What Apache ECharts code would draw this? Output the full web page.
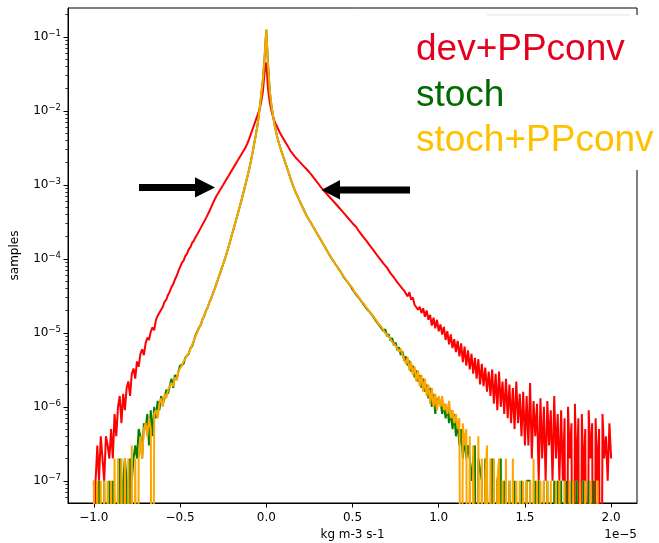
<!DOCTYPE html>
<html><head><meta charset="utf-8">
<script src="https://cdn.jsdelivr.net/npm/echarts@6/dist/echarts.min.js"></script>
<style>html,body{margin:0;padding:0;background:#fff}#c{width:659px;height:543px}</style>
</head><body><div id="c"></div>
<script>
// histogram bins: x (in units of 1e-5 kg m-3 s-1) = X_START + i * X_STEP
const X_START = -1.0, X_STEP = 0.01;
const N_SAMPLES = 1e7;          // counts -> fraction of samples
const ZERO_FLOOR = 1e-12;       // empty bins fall below the log axis (as matplotlib does)

const seriesNames = ['dev+PPconv', 'stoch', 'stoch+PPconv'];

const devPPconvCounts = [
  0,1,3,1,4,2,1,4,3,2,
  5,2,8,4,10,14,6,15,9,18,
  22,14,28,33,24,41,35,52,60,50,
  72,86,80,104,118,108,150,170,165,205,
  225,262,280,325,360,415,455,525,585,680,
  770,880,940,1090,1170,1340,1440,1640,1760,1970,
  2150,2370,2620,2900,3200,3550,3950,4400,4950,5600,
  6300,7000,7650,8370,9150,10000,10950,11980,13100,14330,
  15680,17150,18760,20520,22450,24560,26870,29400,32200,36000,
  41500,48000,56000,65000,76000,88000,102000,130000,180000,330000,
  450000,
  200000,130000,100000,82000,70000,63000,56000,50000,45700,41700,
  38000,34700,31600,28800,26900,25100,23400,22100,20900,19700,
  18600,17600,16600,15700,14800,13800,12900,12000,11200,10500,
  9770,9120,8560,8040,7560,7120,6720,6330,5970,5640,
  5300,4980,4680,4400,4135,3885,3650,3430,3225,3030,
  2850,2720,2560,2310,2250,2010,1960,1760,1700,1520,
  1490,1320,1300,1140,1130,990,990,860,860,760,
  760,640,670,560,580,480,505,420,440,370,
  390,310,355,280,300,240,255,205,225,185,
  215,165,200,150,175,125,160,115,150,105,
  130,95,120,80,105,70,95,62,82,55,
  78,48,72,40,65,36,58,32,52,28,
  46,24,44,20,38,19,34,16,30,14,
  32,11,28,9,30,10,22,8,24,7,
  20,6,18,5,22,6,15,4,16,3,
  14,3,21,2,12,4,11,1,13,2,
  10,1,12,3,9,1,14,2,8,1,
  9,1,7,0,10,2,6,0,11,1,
  7,0,8,1,5,0,9,2,6,0,
  7,1,5,0,8,2,4,1,6,2
];

const stochCounts = [
  1,1,0,1,0,0,1,1,0,1,
  0,1,1,0,1,2,0,1,2,1,
  0,2,1,2,3,2,5,4,2,6,
  5,8,3,9,4,10,7,12,9,14,
  11,13,17,15,19,24,18,27,23,30,
  36,34,38,46,45,52,62,66,78,93,
  98,118,128,153,168,198,220,258,290,338,
  390,455,530,620,725,850,1000,1180,1420,1720,
  2080,2520,3050,3700,4500,5500,6700,8300,10300,12800,
  16000,20500,27000,36000,48000,66000,100000,160000,260000,520000,
  1250000,
  427000,186000,117500,83200,61700,47900,38900,32400,27500,23400,
  19950,17000,14450,12300,10500,9120,7940,7080,6310,5620,
  5010,4470,3980,3630,3310,3020,2750,2510,2290,2090,
  1905,1740,1585,1445,1318,1202,1096,1000,933,851,
  794,724,676,617,560,548,490,470,425,385,
  372,330,330,290,295,250,255,215,222,190,
  192,165,170,140,148,122,128,105,112,90,
  96,78,85,68,74,58,64,50,56,42,
  48,36,42,30,36,25,31,22,27,18,
  24,16,20,13,18,10,15,8,13,11,
  12,8,11,7,10,6,9,5,8,4,
  6,3,5,2,4,2,3,2,1,2,
  3,0,2,2,1,0,2,1,1,0,
  2,1,0,1,1,2,0,1,1,0,
  1,1,0,1,1,0,0,1,1,0,
  1,1,1,0,0,1,0,1,0,0,
  1,0,1,0,0,0,1,0,1,0,
  1,0,0,1,0,0,1,0,0,1,
  0,0,0,1,0,0,1,0,0,1,
  0,0,0,0,0,0,0,0,0,0
];

const stochPPconvCounts = [
  1,0,1,0,1,0,1,0,1,0,
  1,0,2,0,2,0,2,0,2,0,
  2,0,3,0,2,0,2,4,2,5,
  6,4,7,5,0,8,9,7,11,13,
  10,15,13,17,16,21,19,25,23,30,
  33,36,41,43,49,53,60,69,79,90,
  102,116,130,151,171,196,222,256,292,336,
  390,455,530,620,725,850,1000,1180,1420,1720,
  2080,2520,3050,3700,4500,5500,6700,8300,10300,12800,
  16000,20500,27000,36000,48000,66000,100000,160000,260000,520000,
  1250000,
  427000,186000,117500,83200,61700,47900,38900,32400,27500,23400,
  19950,17000,14450,12300,10500,9120,7940,7080,6310,5620,
  5010,4470,3980,3630,3310,3020,2750,2510,2290,2090,
  1905,1740,1585,1445,1318,1202,1096,1000,933,851,
  794,724,676,617,580,530,505,450,432,405,
  362,354,318,309,272,274,238,233,206,209,
  180,178,157,156,134,137,119,118,99,103,
  89,91,75,79,67,70,56,61,50,51,
  38,47,31,40,27,35,22,31,19,27,
  16,24,14,20,11,18,10,15,9,14,
  10,14,9,11,8,12,7,9,6,8,
  5,7,0,6,3,5,0,4,0,3,
  3,0,4,0,2,0,1,3,0,2,
  0,2,0,1,2,0,1,0,2,0,
  1,0,2,0,1,0,1,0,1,0,
  1,0,1,0,2,0,1,0,1,0,
  1,0,1,0,1,0,0,1,0,1,
  0,0,1,0,0,1,0,1,0,0,
  0,1,0,0,1,0,0,1,0,0,
  0,1,0,0,0,0,0,0,0,0
];

const xTicks = [-1.0, -0.5, 0.0, 0.5, 1.0, 1.5, 2.0];
const yTicks = [1e-7, 1e-6, 1e-5, 1e-4, 1e-3, 1e-2, 1e-1];
const yMinorTicks = [
  6e-8,7e-8,8e-8,9e-8,
  2e-7,3e-7,4e-7,5e-7,6e-7,7e-7,8e-7,9e-7,
  2e-6,3e-6,4e-6,5e-6,6e-6,7e-6,8e-6,9e-6,
  2e-5,3e-5,4e-5,5e-5,6e-5,7e-5,8e-5,9e-5,
  2e-4,3e-4,4e-4,5e-4,6e-4,7e-4,8e-4,9e-4,
  2e-3,3e-3,4e-3,5e-3,6e-3,7e-3,8e-3,9e-3,
  2e-2,3e-2,4e-2,5e-2,6e-2,7e-2,8e-2,9e-2,
  2e-1
];

const X_MIN = -1.15, X_MAX = 2.15;
const Y_MIN = Math.pow(10, -7.3), Y_MAX = Math.pow(10, -0.61);

const colors = ['#ff0000', '#008000', '#ffa500'];
const textColors = ['#e60020', '#006a00', '#ffc000'];
const FONT = 'DejaVu Sans';

function toPoints(counts) {
  return counts.map((c, i) => [
    +(X_START + i * X_STEP).toFixed(2),
    c > 0 ? c / N_SAMPLES : ZERO_FLOOR
  ]);
}

const chart = echarts.init(document.getElementById('c'), null, {renderer: 'canvas'});

const option = {
  animation: false,
  backgroundColor: '#fff',
  grid: {left: 68, right: 22, top: 8, bottom: 40, containLabel: false, outerBoundsMode: 'none',
         show: true, borderColor: '#000', borderWidth: 1, backgroundColor: 'transparent'},
  xAxis: {
    type: 'value', min: X_MIN, max: X_MAX,
    name: 'kg m-3 s-1', nameLocation: 'middle', nameGap: 26,
    nameTextStyle: {fontFamily: FONT, fontSize: 12, color: '#000'},
    axisLine: {show: true, onZero: false, lineStyle: {color: '#000', width: 1}},
    axisTick: {show: true, length: 4.5, inside: false, customValues: xTicks, lineStyle: {color: '#000', width: 1}},
    axisLabel: {
      customValues: xTicks, margin: 9, fontFamily: FONT, fontSize: 12, color: '#000',
      formatter: v => (v < 0 ? '\u2212' : '') + Math.abs(v).toFixed(1)
    },
    splitLine: {show: false}
  },
  yAxis: [{
    type: 'log', min: Y_MIN, max: Y_MAX, logBase: 10, position: 'left',
    name: 'samples', nameLocation: 'middle', nameGap: 47,
    nameTextStyle: {fontFamily: FONT, fontSize: 12, color: '#000'},
    axisLine: {show: true, onZero: false, lineStyle: {color: '#000', width: 1}},
    axisTick: {show: true, length: 4.5, customValues: yTicks, lineStyle: {color: '#000', width: 1}},
    axisLabel: {
      customValues: yTicks, margin: 7,
      formatter: v => '{b|10}{s|\u2212' + Math.round(-Math.log10(v)) + '}',
      rich: {
        b: {fontFamily: FONT, fontSize: 12, color: '#000'},
        s: {fontFamily: FONT, fontSize: 8.5, color: '#000', padding: [0, 0, 7, 0]}
      }
    },
    splitLine: {show: false}
  }, {
    type: 'log', min: Y_MIN, max: Y_MAX, logBase: 10, position: 'left', offset: 0,
    axisLine: {show: false, onZero: false},
    axisTick: {show: true, length: 2.7, customValues: yMinorTicks, lineStyle: {color: '#222', width: 0.9}},
    axisLabel: {show: false},
    splitLine: {show: false}
  }],
  series: [devPPconvCounts, stochCounts, stochPPconvCounts].map((counts, k) => ({
    type: 'line',
    name: seriesNames[k],
    xAxisIndex: 0, yAxisIndex: 0,
    data: toPoints(counts),
    showSymbol: false, symbol: 'none',
    clip: true,
    lineStyle: {color: colors[k], width: 2},
    itemStyle: {color: colors[k]},
    emphasis: {disabled: true}
  })),
  graphic: [
    {type: 'text', right: 22, top: 529, z: 50,
     style: {text: '1e\u22125', fontFamily: FONT, fontSize: 12, fill: '#000'}},
    // arrows
    {type: 'polygon', z: 50,
     shape: {points: [[139,184],[195,184],[195,177.3],[215,187.5],[195,197.5],[195,191],[139,191]]},
     style: {fill: '#000'}},
    {type: 'polygon', z: 50,
     shape: {points: [[410,186.5],[340,186.5],[340,180],[321.5,190],[340,199.5],[340,193.5],[410,193.5]]},
     style: {fill: '#000'}},
    // pasted legend box
    {type: 'rect', z: 60, shape: {x: 405, y: 15, width: 254, height: 155}, style: {fill: '#fff'}},
    {type: 'line', z: 61, shape: {x1: 487, y1: 15, x2: 630, y2: 15}, style: {stroke: '#e4e4e4', lineWidth: 1}},
    {type: 'text', z: 62, x: 416, y: 50,
     style: {text: seriesNames[0], fontFamily: 'Liberation Sans', fontSize: 37, fill: textColors[0], verticalAlign: 'middle'}},
    {type: 'text', z: 62, x: 416, y: 96,
     style: {text: seriesNames[1], fontFamily: 'Liberation Sans', fontSize: 37, fill: textColors[1], verticalAlign: 'middle'}},
    {type: 'text', z: 62, x: 416, y: 141,
     style: {text: seriesNames[2], fontFamily: 'Liberation Sans', fontSize: 37, fill: textColors[2], verticalAlign: 'middle'}}
  ]
};
chart.setOption(option);
</script>
</body></html>
